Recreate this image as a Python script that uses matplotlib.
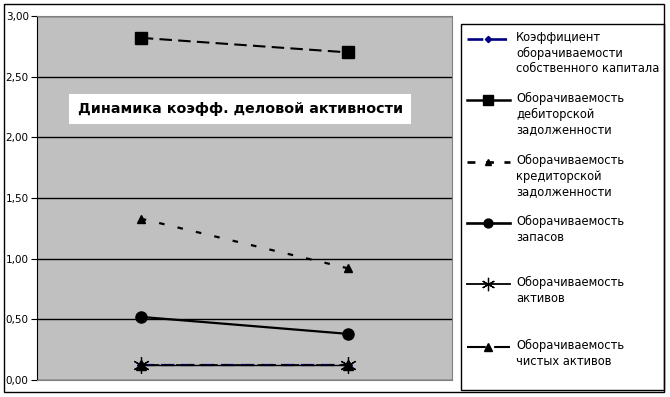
import matplotlib.pyplot as plt
from matplotlib.lines import Line2D
from matplotlib.patches import Rectangle

# ── Data ──────────────────────────────────────────────────────────────────────
periods = [0, 1]
labels = [
    "Коэффициент\nоборачиваемости\nсобственного капитала",
    "Оборачиваемость\nдебиторской\nзадолженности",
    "Оборачиваемость\nкредиторской\nзадолженности",
    "Оборачиваемость\nзапасов",
    "Оборачиваемость\nактивов",
    "Оборачиваемость\nчистых активов",
]
equity   = [0.12, 0.12]
receiv   = [2.82, 2.70]
payable  = [1.33, 0.92]
stock    = [0.52, 0.38]
assets   = [0.12, 0.12]
net_ass  = [0.12, 0.12]
yticks = [0, 0.5, 1.0, 1.5, 2.0, 2.5, 3.0]
ytick_labels = ["0,00", "0,50", "1,00", "1,50", "2,00", "2,50", "3,00"]

W, H = 670, 397
fig = plt.figure(figsize=(W / 100, H / 100), dpi=100)
plt.rcParams["font.family"] = ["DejaVu Sans"]

def fx(px):
    return px / W

def fy(py):
    return 1 - py / H

# outer frame
fig.patches.append(Rectangle((fx(4), fy(392)), fx(660), (392 - 4) / H,
                             transform=fig.transFigure, fill=False,
                             edgecolor="black", linewidth=1))

ax = fig.add_axes([fx(37), fy(380), fx(415), 364 / H])
ax.set_facecolor("#c0c0c0")

styles = [
    (equity,  dict(color="#000080", linestyle=(0, (6, 3)), linewidth=1.6, marker="D", markersize=4)),
    (receiv,  dict(color="black", linestyle=(0, (6, 3)), linewidth=1.5, marker="s", markersize=8.5)),
    (payable, dict(color="black", linestyle=(0, (2.5, 6)), linewidth=1.6, marker="^", markersize=6)),
    (stock,   dict(color="black", linestyle="-", linewidth=1.6, marker="o", markersize=8)),
    (assets,  dict(color="black", linestyle="-", linewidth=1.0, marker=(6, 2, 0), markersize=12,
                   markeredgewidth=0.9)),
    (net_ass, dict(color="black", linestyle=(0, (4, 3)), linewidth=1.2, marker="^", markersize=7)),
]
for vals, st in styles:
    ax.plot(periods, vals, zorder=3, **st)

ax.set_xlim(-0.5, 1.5)
ax.set_ylim(0, 3.0)
ax.set_yticks(yticks)
ax.set_yticklabels(ytick_labels, fontsize=7.5)
ax.set_xticks([])
ax.tick_params(axis="y", direction="out", length=4, width=0.8, pad=2)
ax.grid(axis="y", color="black", linewidth=1.0)
ax.set_axisbelow(True)
for s in ["top", "right", "bottom"]:
    ax.spines[s].set_color("#808080")
ax.spines["left"].set_color("black")

ax.text(0.49, 0.745, "Динамика коэфф. деловой активности", transform=ax.transAxes,
        ha="center", va="center", fontsize=10.3, fontweight="bold",
        bbox=dict(facecolor="white", edgecolor="none", pad=6))

# ── Legend (manual, Excel-like) ───────────────────────────────────────────────
fig.patches.append(Rectangle((fx(461), fy(390)), fx(203), (390 - 24) / H,
                             transform=fig.transFigure, fill=False,
                             edgecolor="black", linewidth=1))
ys = [39, 100, 162, 223, 284, 347]
leg_ls = [(0, (6, 3)), "-", (0, (3, 4)), "-", "-", (0, (9, 4))]
for (vals, st), lab, y, ls in zip(styles, labels, ys, leg_ls):
    fig.add_artist(Line2D([fx(467), fx(510)], [fy(y), fy(y)], transform=fig.transFigure,
                          color=st["color"], linestyle=ls, linewidth=st["linewidth"] + 0.3))
    fig.add_artist(Line2D([fx(488)], [fy(y)], transform=fig.transFigure, linestyle="none",
                          marker=st["marker"], color=st["color"],
                          markersize=st["markersize"] * 0.8,
                          markeredgewidth=st.get("markeredgewidth", 1)))
    fig.text(fx(516), fy(y - 8), lab, ha="left", va="top", fontsize=8.3,
             linespacing=1.25)

fig.savefig("out.png", dpi=100)
